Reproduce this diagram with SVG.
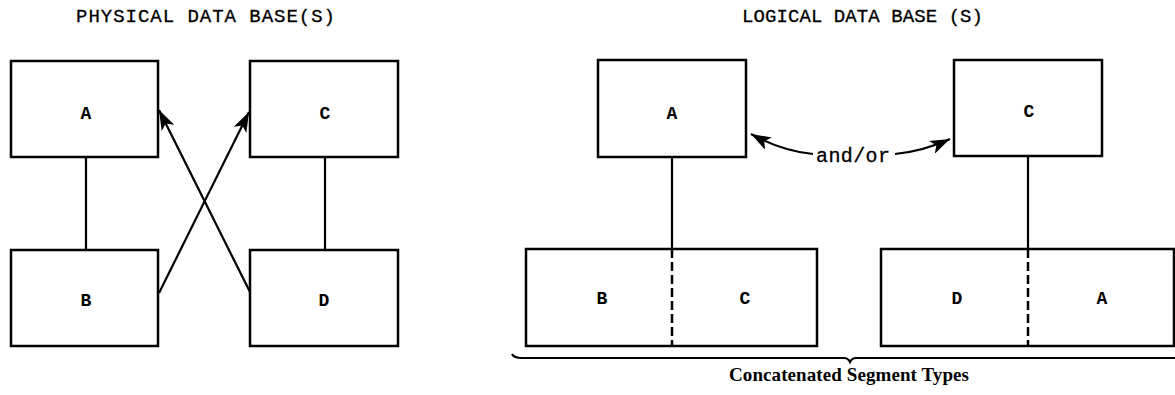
<svg xmlns="http://www.w3.org/2000/svg" width="1175" height="395" viewBox="0 0 1175 395">
<style>
.box{fill:#fff;stroke:#000;stroke-width:2.5}
.ln{fill:none;stroke:#000;stroke-width:2.2}
.dash{fill:none;stroke:#000;stroke-width:2.5;stroke-dasharray:9 4}
.lbl{font-family:"Liberation Mono","Courier New",monospace;font-size:18px;font-weight:bold;text-anchor:middle;fill:#000}
.ttl{font-family:"Liberation Mono","Courier New",monospace;font-size:19px;fill:#000;stroke:#000;stroke-width:0.3}
.andor{font-family:"Liberation Mono","Courier New",monospace;font-size:20px;fill:#000;stroke:#000;stroke-width:0.3}
.cap{font-family:"Liberation Serif","Times New Roman",serif;font-size:19px;font-weight:bold;text-anchor:middle;fill:#000}
</style>
<defs>
<marker id="ah" markerUnits="userSpaceOnUse" markerWidth="22" markerHeight="14" refX="20" refY="7" orient="auto">
<path d="M0,0 L20,7 L0,14 L5,7 z" fill="#000"/>
</marker>
</defs>
<rect width="1175" height="395" fill="#fff"/>
<text class="ttl" x="76" y="22" textLength="259">PHYSICAL DATA BASE(S)</text>
<text class="ttl" x="742" y="22" textLength="241">LOGICAL DATA BASE (S)</text>

<g id="connectors">
<line class="ln" x1="86" y1="157" x2="86" y2="250"/>
<line class="ln" x1="325" y1="157" x2="325" y2="250"/>
<line class="ln" x1="159" y1="293" x2="249" y2="112" marker-end="url(#ah)"/>
<line class="ln" x1="250" y1="292" x2="159" y2="110" marker-end="url(#ah)"/>
<line class="ln" x1="672" y1="157" x2="672" y2="249"/>
<line class="ln" x1="1028" y1="156" x2="1028" y2="249"/>
<path class="ln" d="M813,154 Q782,151 751,134" marker-end="url(#ah)"/>
<path class="ln" d="M895,154 Q924,151 950,139" marker-end="url(#ah)"/>
</g>

<g id="p-A"><rect class="box" x="11" y="61" width="147" height="96"/><text class="lbl" x="86" y="119">A</text></g>
<g id="p-C"><rect class="box" x="250" y="61" width="148" height="96"/><text class="lbl" x="325" y="119">C</text></g>
<g id="p-B"><rect class="box" x="11" y="250" width="147" height="96"/><text class="lbl" x="86" y="306">B</text></g>
<g id="p-D"><rect class="box" x="250" y="250" width="148" height="96"/><text class="lbl" x="324" y="306">D</text></g>

<g id="l-A"><rect class="box" x="598" y="60" width="148" height="97"/><text class="lbl" x="672" y="119">A</text></g>
<g id="l-C"><rect class="box" x="954" y="60" width="148" height="96"/><text class="lbl" x="1029" y="117">C</text></g>
<g id="l-BC"><rect class="box" x="526" y="249" width="291" height="97"/><line class="dash" x1="672" y1="249" x2="672" y2="346"/><text class="lbl" x="602" y="304">B</text><text class="lbl" x="745" y="304">C</text></g>
<g id="l-DA"><rect class="box" x="881" y="249" width="293" height="97"/><line class="dash" x1="1028" y1="249" x2="1028" y2="346"/><text class="lbl" x="957" y="304">D</text><text class="lbl" x="1102" y="304">A</text></g>

<text class="andor" x="816" y="162" textLength="74">and/or</text>

<g id="brace">
<path class="ln" d="M512,354 Q514,358 522,358 L844,358 Q848,358 850,362 Q852,358 856,358 L1175,358"/>
<text class="cap" x="849" y="381" textLength="240">Concatenated Segment Types</text>
</g>
</svg>
